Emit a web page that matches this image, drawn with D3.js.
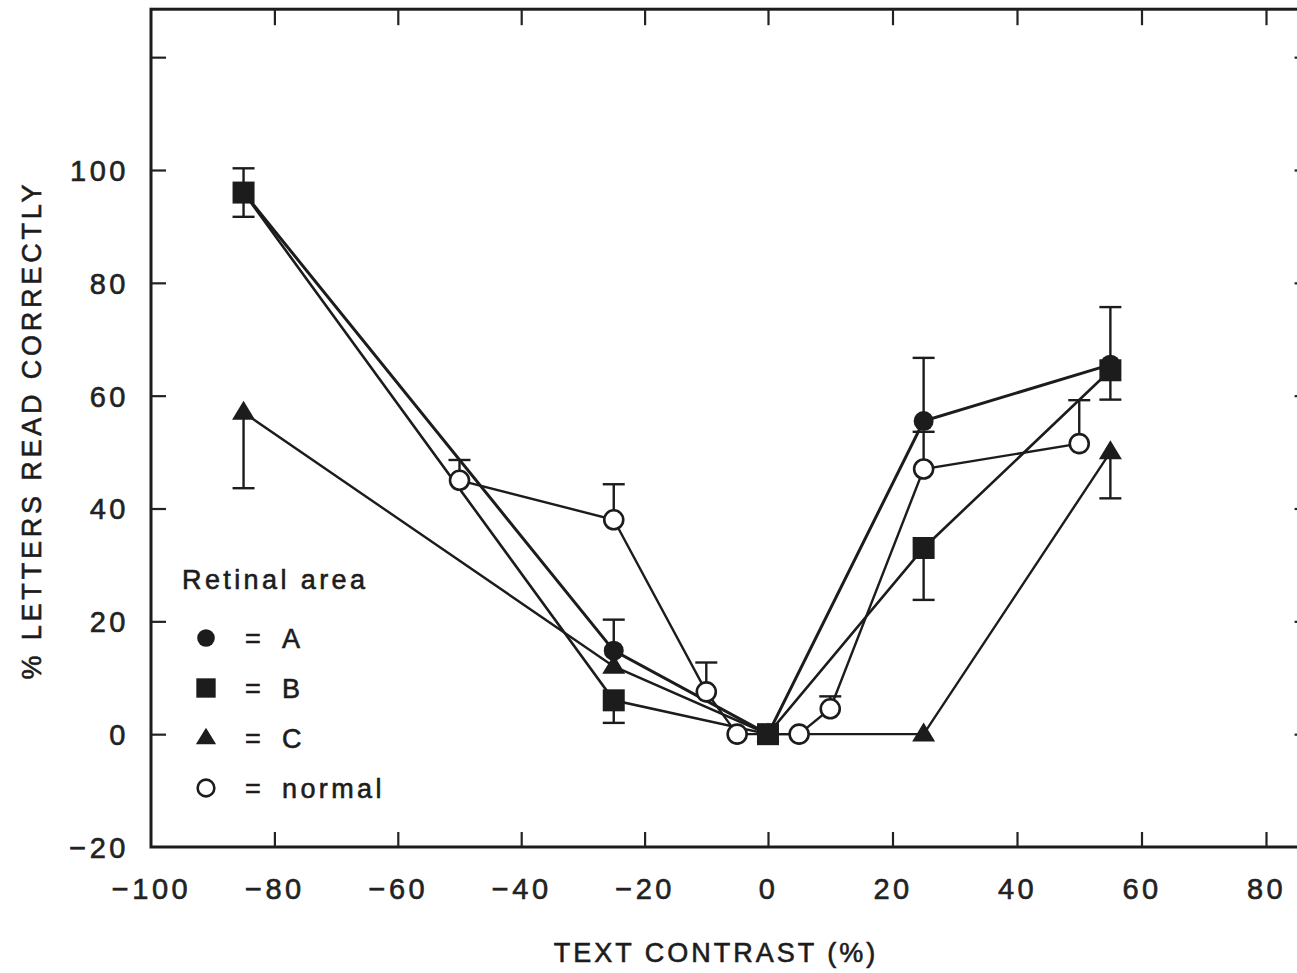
<!DOCTYPE html>
<html>
<head>
<meta charset="utf-8">
<script src="https://cdn.jsdelivr.net/npm/d3@7.9.0/dist/d3.min.js"></script>
<style>
  body { margin: 0; background: #fff; }
  svg { display: block; font-family: "Liberation Sans", Arial, sans-serif; }
  .axis path { display: none; }
  .axis line { stroke: #222; stroke-width: 2.2; }
  .axis text { font-size: 29px; fill: #222; letter-spacing: 3.5px; stroke: #222; stroke-width: 0.6px; }
  .lbl { stroke: #1c1c1c; stroke-width: 0.6px; }
</style>
</head>
<body>
<svg id="chart" width="1297" height="973"></svg>
<script>
// x = text contrast (%), y = % letters read correctly
const contrastA = [-85, -25, 0, 25, 55];
const lettersA = [96, 14.8, 0, 55.5, 65.5];
const upperA = [null, 20.3, null, 66.7, 75.7];

const contrastB = [-85, -25, 0, 25, 55];
const lettersB = [96, 6, 0, 33, 64.5];
const upperB = [100.3, null, null, null, null];
const lowerB = [91.7, 2, null, 23.8, 59.3];

const contrastC = [-85, -25, 0, 25, 55];
const lettersC = [57, 12, 0, 0, 50];
const lowerC = [43.6, null, null, null, 41.8];

const contrastN = [-50, -25, -10, -5, 5, 10, 25, 50];
const lettersN = [45, 38, 7.5, 0, 0, 4.5, 47, 51.5];
const upperN = [48.6, 44.3, 12.7, null, null, 6.7, 53.6, 59.2];

const xTicks = [-100, -80, -60, -40, -20, 0, 20, 40, 60, 80];
const yTicks = [-20, 0, 20, 40, 60, 80, 100, 120];
const legendLabels = ['A', 'B', 'C', 'normal'];

const ink = '#1c1c1c';
const svg = d3.select('#chart');

// scanned axis is a touch wider on the right side of zero
const x = d3.scaleLinear().domain([-100, 0, 80]).range([151, 768, 1266]);
const y = d3.scaleLinear().domain([-20, 100]).range([847, 170]);
const xEnd = 87, yEnd = 128.5;

function makeSeries(xs, ys, lo, hi) {
    return xs.map((d, i) => ({ x: d, y: ys[i], lo: lo ? lo[i] : null, hi: hi ? hi[i] : null }));
}
const series = [
    { key: 'A', shape: 'circle', pts: makeSeries(contrastA, lettersA, null, upperA), w: 3 },
    { key: 'B', shape: 'square', pts: makeSeries(contrastB, lettersB, lowerB, upperB), w: 2.6 },
    { key: 'C', shape: 'triangle', pts: makeSeries(contrastC, lettersC, lowerC, null), w: 2.4 },
    { key: 'normal', shape: 'open', pts: makeSeries(contrastN, lettersN, null, upperN), w: 2.4 },
];

// frame
svg.append('rect')
    .attr('x', x(-100)).attr('y', y(yEnd))
    .attr('width', x(xEnd) - x(-100)).attr('height', y(-20) - y(yEnd))
    .attr('fill', 'none').attr('stroke', ink).attr('stroke-width', 3);

const tickX = xTicks.filter(d => d > -100);
const tickY = yTicks.filter(d => d > -20);

svg.append('g').attr('class', 'axis xb')
    .attr('transform', `translate(0,${y(-20)})`)
    .call(d3.axisBottom(x).tickValues(xTicks).tickSize(-15).tickPadding(31))
    .call(g => g.selectAll('.tick line').filter(d => d === -100).remove());

svg.append('g').attr('class', 'axis')
    .attr('transform', `translate(0,${y(yEnd)})`)
    .call(d3.axisTop(x).tickValues(tickX).tickSize(-16).tickFormat(''));

svg.append('g').attr('class', 'axis yl')
    .attr('transform', `translate(${x(-100)},0)`)
    .call(d3.axisLeft(y).tickValues(yTicks).tickSize(-15).tickPadding(22)
        .tickFormat(d => d === 120 ? '' : d3.format('')(d)))
    .call(g => g.selectAll('.tick line').filter(d => d === -20).remove());

svg.append('g').attr('class', 'axis')
    .attr('transform', `translate(${x(xEnd)},0)`)
    .call(d3.axisRight(y).tickValues(tickY).tickSize(-15).tickFormat(''));

svg.selectAll('.yl text').attr('dy', '0.36em');
svg.selectAll('.xb text').attr('dy', '0.71em');

// lines
const line = d3.line().x(d => x(d.x)).y(d => y(d.y));
svg.append('g').selectAll('path')
    .data(series)
    .join('path')
    .attr('d', s => line(s.pts))
    .attr('fill', 'none')
    .attr('stroke', ink)
    .attr('stroke-width', s => s.w);

// error bars
const bars = [];
series.forEach(s => s.pts.forEach(p => {
    if (p.lo != null) bars.push({ x: p.x, from: p.y, to: p.lo });
    if (p.hi != null) bars.push({ x: p.x, from: p.y, to: p.hi });
}));
const eb = svg.append('g').attr('stroke', ink).attr('stroke-width', 2.4);
eb.selectAll('line.v').data(bars).join('line').attr('class', 'v')
    .attr('x1', d => x(d.x)).attr('x2', d => x(d.x))
    .attr('y1', d => y(d.from)).attr('y2', d => y(d.to));
eb.selectAll('line.cap').data(bars).join('line').attr('class', 'cap')
    .attr('x1', d => x(d.x) - 11).attr('x2', d => x(d.x) + 11)
    .attr('y1', d => y(d.to)).attr('y2', d => y(d.to));

// markers
function drawMarker(g, shape, cx, cy, scale) {
    const k = scale || 1;
    if (shape === 'circle') {
        g.append('circle').attr('cx', cx).attr('cy', cy).attr('r', 10 * k).attr('fill', ink).attr('stroke', 'none');
    } else if (shape === 'square') {
        g.append('rect').attr('x', cx - 11 * k).attr('y', cy - 11 * k)
            .attr('width', 22 * k).attr('height', 22 * k).attr('fill', ink).attr('stroke', 'none');
    } else if (shape === 'triangle') {
        const h = 19 * k, b = 11.5 * k;
        g.append('path').attr('d', `M${cx},${cy - h * 0.62}L${cx + b},${cy + h * 0.38}L${cx - b},${cy + h * 0.38}Z`)
            .attr('fill', ink).attr('stroke', 'none');
    } else {
        g.append('circle').attr('cx', cx).attr('cy', cy).attr('r', 9.5 * k)
            .attr('fill', '#fff').attr('stroke', ink).attr('stroke-width', 2.6);
    }
}
const mk = svg.append('g');
['open', 'triangle', 'square', 'circle'].forEach(shape => {
    const s = series.find(d => d.shape === shape);
    s.pts.forEach(p => drawMarker(mk, shape, x(p.x), y(p.y)));
});

// legend
const lg = svg.append('g').attr('fill', ink)
    .style('font-size', '27px').style('letter-spacing', '3.4px');
lg.append('text').attr('class', 'lbl').attr('x', 182).attr('y', 589).text('Retinal area');
const legendShapes = ['circle', 'square', 'triangle', 'open'];
legendLabels.forEach((lab, i) => {
    const cy = 638 + i * 50;
    drawMarker(lg, legendShapes[i], 206, cy, 0.88);
    lg.append('text').attr('class', 'lbl').attr('x', 245).attr('y', cy + 10).text('=');
    lg.append('text').attr('class', 'lbl').attr('x', 282).attr('y', cy + 10).text(lab);
});

// axis titles
svg.append('text')
    .attr('class', 'lbl')
    .attr('x', 716).attr('y', 962)
    .attr('text-anchor', 'middle')
    .attr('fill', ink)
    .style('font-size', '27px').style('letter-spacing', '3px')
    .text('TEXT CONTRAST (%)');

svg.append('text')
    .attr('class', 'lbl')
    .attr('transform', 'translate(41,430) rotate(-90)')
    .attr('text-anchor', 'middle')
    .attr('fill', ink)
    .style('font-size', '27px').style('letter-spacing', '3.8px')
    .text('% LETTERS READ CORRECTLY');
</script>
</body>
</html>
